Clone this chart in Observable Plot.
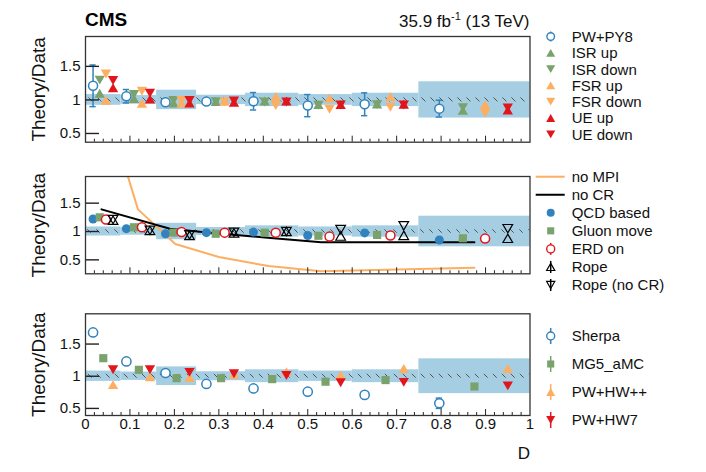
<!DOCTYPE html>
<html><head><meta charset="utf-8">
<script src="https://cdn.jsdelivr.net/npm/d3@7"></script>
<script src="https://cdn.jsdelivr.net/npm/@observablehq/plot@0.6"></script>
<style>
body{margin:0;background:#fff;font-family:"Liberation Sans",Arial,Helvetica,sans-serif;}
#wrap{position:relative;width:706px;height:472px;overflow:hidden;background:#fff;}
#wrap svg{position:absolute;left:0;}
</style></head><body><div id="wrap"></div>
<script>
// ---------- data ----------
const binEdges = [0, 0.08, 0.16, 0.25, 0.36, 0.48, 0.6, 0.75, 1.0];
const bandErr = [0.08, 0.065, 0.145, 0.07, 0.1, 0.08, 0.1, 0.27];
const hatchErr = 0.03;
const posA = [0.017, 0.092, 0.18, 0.272, 0.378, 0.5, 0.628, 0.796];
const posB = [0.032, 0.109, 0.198, 0.293, 0.403, 0.524, 0.656, 0.849];
const posC = [0.046, 0.127, 0.216, 0.313, 0.428, 0.549, 0.686, 0.899];
const posD = [0.062, 0.145, 0.234, 0.334, 0.452, 0.574, 0.716, 0.95];
const posMid = [0.04, 0.12, 0.205, 0.305, 0.42, 0.54, 0.675, 0.875];

// top panel
const pwpy8 = [1.21, 1.055, 0.965, 0.975, 0.98, 0.915, 0.935, 0.87];
const pwpy8Err = [0.31, 0.1, 0.03, 0.03, 0.13, 0.165, 0.17, 0.125];
const isrUp = [1.1, 1.02, 0.955, 0.975, 0.985, 0.93, 0.94, 0.845];
const isrDown = [1.295, 1.08, 0.99, 0.975, 0.97, 0.92, 0.93, 0.885];
const fsrUp = [0.995, 0.95, 0.955, 0.98, 1.05, 1.03, 1.05, 0.93];
const fsrDown = [1.385, 1.13, 0.99, 0.97, 0.915, 0.86, 0.89, 0.80];
const ueUp = [1.18, 1.015, 0.955, 0.965, 0.985, 0.93, 0.935, 0.85];
const ueDown = [1.29, 1.10, 0.99, 0.985, 0.97, 0.925, 0.925, 0.88];

// middle panel
const qcdBased = [1.22, 1.05, 0.96, 0.98, 0.99, 0.93, 0.975, 0.85];
const gluonMove = [1.25, 1.075, 0.98, 0.96, 0.98, 0.925, 0.94, 0.88];
const erdOn = [1.21, 1.075, 0.99, 0.98, 0.98, 0.91, 0.93, 0.875];
const rope = [1.2, 1.02, 0.93, 0.975, 1.0, 0.92, 0.93, 0.88];
const ropeNoCR = [1.21, 1.02, 0.94, 0.985, 1.0, 1.035, 1.1, 1.05];
const noCRx = [0.036, 0.19, 0.28, 0.41, 0.53, 0.875];
const noCRy = [1.39, 1.05, 0.98, 0.89, 0.81, 0.81];
const noMPIx = [0.036, 0.118, 0.202, 0.30, 0.412, 0.53, 0.875];
const noMPIy = [3.5, 1.39, 0.78, 0.55, 0.39, 0.30, 0.36];

// bottom panel
const sherpa = [1.68, 1.23, 1.05, 0.88, 0.81, 0.76, 0.71, 0.58];
const sherpaErr = [0.02, 0.02, 0.02, 0.02, 0.02, 0.03, 0.03, 0.08];
const mg5 = [1.28, 1.10, 0.97, 0.97, 0.955, 0.915, 0.94, 0.84];
const pwhwpp = [0.87, 0.99, 0.98, 1.03, 1.07, 1.02, 1.12, 1.12];
const pwhw7 = [1.10, 1.10, 1.06, 1.04, 1.01, 0.90, 0.905, 0.85];

// ticks
const yTicks = [0.5, 1, 1.5];
const xTickValues = [0, 0.1, 0.2, 0.3, 0.4, 0.5, 0.6, 0.7, 0.8, 0.9, 1];
const xTickLabels = ["0", "0.1", "0.2", "0.3", "0.4", "0.5", "0.6", "0.7", "0.8", "0.9", "1"];
const xMajorTicks = [0.1, 0.2, 0.3, 0.4, 0.5, 0.6, 0.7, 0.8, 0.9];
const xMinorTicks = d3.range(1, 50).map(i => i * 0.02).filter(v => Math.abs(v * 10 - Math.round(v * 10)) > 1e-6);

// ---------- style ----------
const BLUE = "#3182bd", GREEN = "#7aa26c", ORANGE = "#fdae61", RED = "#e0161c", BAND = "#a6cee3";
const FONT = "'Liberation Sans', Arial, Helvetica, sans-serif";
const W = 706, ML = 85, MR = 176.5;
const SQ3 = Math.sqrt(3);
function triShape(dir) {
  return {draw(ctx, size) {
    const r = Math.sqrt(size / Math.PI), a = 2.15 * r, h = a * SQ3 / 2;
    ctx.moveTo(0, -dir * h / 2); ctx.lineTo(a / 2, dir * h / 2); ctx.lineTo(-a / 2, dir * h / 2); ctx.closePath();
  }};
}
const triUp = triShape(1), triDown = triShape(-1);

const rows = (xs, ys, es) => xs.map((x, i) => ({x, y: ys[i], e: es ? es[i] : 0}));
const bands = binEdges.slice(0, -1).map((x0, i) => ({x1: x0, x2: binEdges[i + 1], lo: 1 - bandErr[i], hi: 1 + bandErr[i]}));
const hatch = [{x1: binEdges[0], x2: binEdges[binEdges.length - 1], lo: 1 - hatchErr, hi: 1 + hatchErr}];

function errMarks(data, color) {
  return [
    Plot.ruleX(data, {x: "x", y1: d => d.y - d.e, y2: d => d.y + d.e, stroke: color, strokeWidth: 1.5}),
    Plot.ruleY(data, {y: d => d.y - d.e, x1: d => d.x - 0.007, x2: d => d.x + 0.007, stroke: color, strokeWidth: 1.5}),
    Plot.ruleY(data, {y: d => d.y + d.e, x1: d => d.x - 0.007, x2: d => d.x + 0.007, stroke: color, strokeWidth: 1.5})
  ];
}

function panel({top, height, mt, mb, domain, marks, id, xaxis}) {
  const innerH = height - mt - mb;
  const ppu = innerH / (domain[1] - domain[0]);
  const ppx = (W - ML - MR);
  const all = [
    Plot.rect(bands, {x1: "x1", x2: "x2", y1: "lo", y2: "hi", fill: BAND}),
    Plot.rect(hatch, {x1: "x1", x2: "x2", y1: "lo", y2: "hi", fill: `url(#${id})`}),
    ...marks,
    Plot.ruleX(xMinorTicks, {x: d => d, y1: domain[0], y2: domain[0] + 3 / ppu, stroke: "#222"}),
    Plot.ruleX(xMajorTicks, {x: d => d, y1: domain[0], y2: domain[0] + 6 / ppu, stroke: "#222"}),
    Plot.ruleY(yTicks, {y: d => d, x1: 0, x2: 14 / ppx, stroke: "#222", strokeWidth: 1.4}),
    Plot.axisY({ticks: yTicks, tickSize: 0, tickPadding: 5, fontSize: 15, tickFormat: d => String(d), label: null}),
    Plot.text(["Theory/Data"], {x: () => domain[0] * 0, y: () => (domain[0] + domain[1]) / 2, dx: -47, rotate: -90, fontSize: 19, fill: "#111", textAnchor: "middle", lineAnchor: "middle"}),
    Plot.frame({stroke: "#333", strokeWidth: 1.3})
  ];
  if (xaxis) {
    all.push(Plot.axisX({ticks: xTickValues, tickSize: 0, tickPadding: 3, fontSize: 15, tickFormat: (d, i) => xTickLabels[xTickValues.indexOf(d)], label: null}));
    all.push(Plot.text(["D"], {frameAnchor: "bottom-right", dy: 43, lineAnchor: "bottom", textAnchor: "end", fontSize: 17, fill: "#111"}));
  }
  const svg = Plot.plot({
    width: W, height, marginLeft: ML, marginRight: MR, marginTop: mt, marginBottom: mb,
    x: {domain: [0, 1], axis: null},
    y: {domain, axis: null},
    style: {fontFamily: FONT, fontSize: "15px", color: "#111", background: "transparent", overflow: "visible"},
    marks: all
  });
  const ns = "http://www.w3.org/2000/svg";
  const defs = document.createElementNS(ns, "defs");
  defs.innerHTML = `<pattern id="${id}" patternUnits="userSpaceOnUse" width="9" height="9"><path d="M0,0L9,9M-2,7L2,11M7,-2L11,2" stroke="#555" stroke-width="1"/></pattern>`;
  svg.insertBefore(defs, svg.firstChild);
  svg.style.top = top + "px";
  document.getElementById("wrap").appendChild(svg);
}

// top panel
const pwRows = rows(posA, pwpy8, pwpy8Err);
panel({top: 0, height: 160, mt: 36, mb: 18.3, domain: [0.37, 1.945], id: "hatch0", marks: [
  ...errMarks(pwRows, BLUE),
  Plot.dot(pwRows, {x: "x", y: "y", r: 4.5, fill: "white", stroke: BLUE, strokeWidth: 1.5}),
  Plot.dot(rows(posB, isrUp), {x: "x", y: "y", r: 4.8, symbol: triUp, fill: GREEN, stroke: "none"}),
  Plot.dot(rows(posB, isrDown), {x: "x", y: "y", r: 4.8, symbol: triDown, fill: GREEN, stroke: "none"}),
  Plot.dot(rows(posC, fsrUp), {x: "x", y: "y", r: 4.8, symbol: triUp, fill: ORANGE, stroke: "none"}),
  Plot.dot(rows(posC, fsrDown), {x: "x", y: "y", r: 4.8, symbol: triDown, fill: ORANGE, stroke: "none"}),
  Plot.dot(rows(posD, ueUp), {x: "x", y: "y", r: 4.8, symbol: triUp, fill: RED, stroke: "none"}),
  Plot.dot(rows(posD, ueDown), {x: "x", y: "y", r: 4.8, symbol: triDown, fill: RED, stroke: "none"})
]});

// middle panel
panel({top: 160, height: 135, mt: 16, mb: 21.7, domain: [0.254, 1.97], id: "hatch1", marks: [
  Plot.line(rows(noMPIx, noMPIy), {x: "x", y: "y", stroke: ORANGE, strokeWidth: 2, clip: true}),
  Plot.line(rows(noCRx, noCRy), {x: "x", y: "y", stroke: "#000", strokeWidth: 2}),
  Plot.dot(rows(posA, qcdBased), {x: "x", y: "y", r: 4.5, fill: BLUE, stroke: "none"}),
  Plot.dot(rows(posB, gluonMove), {x: "x", y: "y", r: 4.6, symbol: "square", fill: GREEN, stroke: "none"}),
  Plot.dot(rows(posC, erdOn), {x: "x", y: "y", r: 4.5, fill: "white", stroke: RED, strokeWidth: 1.5}),
  Plot.dot(rows(posD, rope), {x: "x", y: "y", r: 4.5, symbol: triUp, fill: "none", stroke: "#000", strokeWidth: 1.2}),
  Plot.dot(rows(posD, ropeNoCR), {x: "x", y: "y", r: 4.5, symbol: triDown, fill: "none", stroke: "#000", strokeWidth: 1.2})
]});

// bottom panel
const shRows = rows(posA, sherpa, sherpaErr);
panel({top: 295, height: 177, mt: 18.3, mb: 57, domain: [0.39, 1.97], id: "hatch2", xaxis: true, marks: [
  ...errMarks(shRows, BLUE),
  Plot.dot(shRows, {x: "x", y: "y", r: 4.6, fill: "white", stroke: BLUE, strokeWidth: 1.5}),
  Plot.dot(rows(posMid, mg5), {x: "x", y: "y", r: 4.6, symbol: "square", fill: GREEN, stroke: "none"}),
  Plot.dot(rows(posD, pwhwpp), {x: "x", y: "y", r: 4.8, symbol: triUp, fill: ORANGE, stroke: "none"}),
  Plot.dot(rows(posD, pwhw7), {x: "x", y: "y", r: 4.8, symbol: triDown, fill: RED, stroke: "none"})
]});

// ---------- overlay: header and legends ----------
const ov = d3.select("#wrap").append("svg").attr("width", W).attr("height", 472).style("top", "0px")
  .style("font-family", FONT);
ov.append("text").attr("x", 85).attr("y", 26).attr("font-size", 19).attr("font-weight", "bold").attr("fill", "#000").text("CMS");
const hdr = ov.append("text").attr("x", 529.5).attr("y", 26.5).attr("font-size", 17).attr("text-anchor", "end").attr("fill", "#111");
hdr.append("tspan").text("35.9 fb");
hdr.append("tspan").attr("font-size", 11).attr("dy", -7).text("-1");
hdr.append("tspan").attr("dy", 7).text(" (13 TeV)");

const symPath = (type, r) => d3.symbol(type, Math.PI * r * r)();
function entry(x, y, label, o) {
  const g = ov.append("g").attr("transform", `translate(${x},${y})`);
  if (o.line) g.append("line").attr("x1", -15).attr("x2", 14).attr("y1", 0).attr("y2", 0).attr("stroke", o.line).attr("stroke-width", 2);
  if (o.bar) g.append("line").attr("x1", 0).attr("x2", 0).attr("y1", -o.bar).attr("y2", o.bar).attr("stroke", o.barColor || o.stroke || o.fill).attr("stroke-width", 1.5);
  if (o.sym) g.append("path").attr("d", symPath(o.sym, o.r || 4.2)).attr("fill", o.fill || "none").attr("stroke", o.stroke || "none").attr("stroke-width", o.sw || 1.4);
  ov.append("text").attr("x", 571.7).attr("y", y).attr("dy", "0.36em").attr("font-size", 15).attr("fill", "#111").text(label);
}
const LX = 550.7;
const topLeg = [
  ["PW+PY8", {sym: d3.symbolCircle, fill: "white", stroke: BLUE, bar: 5, r: 3.8}],
  ["ISR up", {sym: triUp, fill: GREEN}],
  ["ISR down", {sym: triDown, fill: GREEN}],
  ["FSR up", {sym: triUp, fill: ORANGE}],
  ["FSR down", {sym: triDown, fill: ORANGE}],
  ["UE up", {sym: triUp, fill: RED}],
  ["UE down", {sym: triDown, fill: RED}]
];
topLeg.forEach(([l, o], i) => entry(LX, 36.5 + i * 16.3, l, o));
const midLeg = [
  ["no MPI", {line: ORANGE}],
  ["no CR", {line: "#000"}],
  ["QCD based", {sym: d3.symbolCircle, fill: BLUE, r: 4}],
  ["Gluon move", {sym: d3.symbolSquare, fill: GREEN, r: 4}],
  ["ERD on", {sym: d3.symbolCircle, fill: "white", stroke: RED, bar: 6, r: 4}],
  ["Rope", {sym: triUp, stroke: "#000", sw: 1.2, bar: 6, barColor: "#000", r: 3.8}],
  ["Rope (no CR)", {sym: triDown, stroke: "#000", sw: 1.2, bar: 6, barColor: "#000", r: 3.8}]
];
midLeg.forEach(([l, o], i) => entry(LX, 176.7 + i * 18.05, l, o));
const botLeg = [
  ["Sherpa", {sym: d3.symbolCircle, fill: "white", stroke: BLUE, bar: 8, r: 4}],
  ["MG5_aMC", {sym: d3.symbolSquare, fill: GREEN, bar: 8, r: 4}],
  ["PW+HW++", {sym: triUp, fill: ORANGE, bar: 8, r: 4.2}],
  ["PW+HW7", {sym: triDown, fill: RED, bar: 8, r: 4.2}]
];
botLeg.forEach(([l, o], i) => entry(LX, 336 + i * 28, l, o));
</script></body></html>
